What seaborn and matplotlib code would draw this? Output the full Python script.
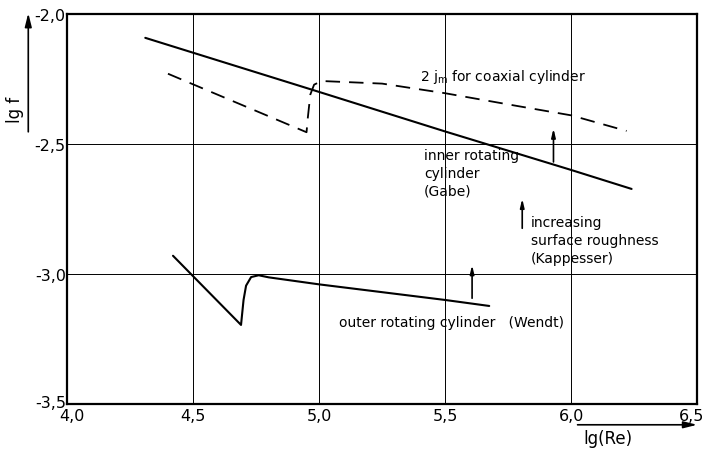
import seaborn as sns
import matplotlib.pyplot as plt
import matplotlib.transforms as mtransforms
import pandas as pd

# curves (lg Re, lg f)
gabe_x = [4.31, 5.0, 5.5, 6.0, 6.24]
gabe_y = [-2.092, -2.30, -2.452, -2.60, -2.673]

coax_x = [4.40, 4.95, 4.955, 4.965, 4.98, 5.01, 5.25, 5.5, 5.786, 6.0, 6.22]
coax_y = [-2.23, -2.455, -2.40, -2.31, -2.272, -2.258, -2.268, -2.305, -2.354, -2.39, -2.45]

wendt_x = [4.42, 4.69, 4.70, 4.71, 4.73, 4.76, 4.80, 5.0, 5.25, 5.5, 5.675]
wendt_y = [-2.93, -3.196, -3.10, -3.045, -3.012, -3.005, -3.013, -3.04, -3.07, -3.10, -3.123]

# roughness arrows: x, y start, y end
arrow_x = [5.93, 5.806, 5.607]
arrow_y0 = [-2.58, -2.835, -3.104]
arrow_y1 = [-2.43, -2.70, -2.955]

x_ticks = [4.0, 4.5, 5.0, 5.5, 6.0, 6.5]
y_ticks = [-3.5, -3.0, -2.5, -2.0]

sns.set_style("white")
plt.rcParams['font.family'] = ['DejaVu Sans']
plt.rcParams['text.color'] = 'black'
plt.rcParams['xtick.color'] = 'black'
plt.rcParams['ytick.color'] = 'black'

fig = plt.figure(figsize=(7.07, 4.52), dpi=100)
ax = fig.add_axes([0.095, 0.104, 0.891, 0.863])

df_gabe = pd.DataFrame({'x': gabe_x, 'y': gabe_y})
df_coax = pd.DataFrame({'x': coax_x, 'y': coax_y})
df_wendt = pd.DataFrame({'x': wendt_x, 'y': wendt_y})

sns.lineplot(data=df_gabe, x='x', y='y', sort=False, color='black', lw=1.5, ax=ax)
sns.lineplot(data=df_coax, x='x', y='y', sort=False, color='black', lw=1.3,
             linestyle=(0, (8, 5)), ax=ax)
sns.lineplot(data=df_wendt, x='x', y='y', sort=False, color='black', lw=1.5, ax=ax)

for xa, y0, y1 in zip(arrow_x, arrow_y0, arrow_y1):
    ax.annotate('', xy=(xa, y1), xytext=(xa, y0),
                arrowprops=dict(arrowstyle='-|>,head_length=0.5,head_width=0.12',
                                color='black', lw=1.2))

ax.set_xlim(4.0, 6.5)
ax.set_ylim(-3.5, -2.0)
ax.set_xticks(x_ticks)
ax.set_yticks(y_ticks)
ax.set_xticklabels([f"{t:.1f}".replace('.', ',') for t in x_ticks], fontsize=11.5)
ax.set_yticklabels([f"{t:.1f}".replace('.', ',') for t in y_ticks], fontsize=11.5)
ax.tick_params(axis='y', length=0, pad=1)
ax.tick_params(axis='x', length=0, pad=3)
# nudge the corner labels like in the original
xl = ax.get_xticklabels()
xl[0].set_transform(xl[0].get_transform() + mtransforms.ScaledTranslation(5 / 100, 0, fig.dpi_scale_trans))
xl[-1].set_transform(xl[-1].get_transform() + mtransforms.ScaledTranslation(-6 / 100, 0, fig.dpi_scale_trans))
yl = ax.get_yticklabels()
yl[0].set_transform(yl[0].get_transform() + mtransforms.ScaledTranslation(0, 3 / 100, fig.dpi_scale_trans))
ax.grid(True, color='black', lw=0.7)
for s in ax.spines.values():
    s.set_color('black')
    s.set_linewidth(1.6)
ax.set_xlabel('')
ax.set_ylabel('')

fs = 10
ax.text(5.40, -2.24, r'2 j$_\mathrm{m}$ for coaxial cylinder', fontsize=fs, va='center')
ax.text(5.417, -2.515, 'inner rotating\ncylinder\n(Gabe)', fontsize=fs, va='top',
        linespacing=1.35)
ax.text(5.84, -2.775, 'increasing\nsurface roughness\n(Kappesser)', fontsize=fs, va='top',
        linespacing=1.35)
ax.text(5.08, -3.185, 'outer rotating cylinder   (Wendt)', fontsize=fs, va='center')

# axis names with arrows
fig.text(0.021, 0.757, 'lg f', rotation=90, fontsize=12, ha='center', va='center')
fig.text(0.86, 0.028, 'lg(Re)', fontsize=12, ha='center', va='center')
ax.annotate('', xy=(0.04, 0.975), xytext=(0.04, 0.70), xycoords='figure fraction',
            arrowprops=dict(arrowstyle='-|>,head_length=0.8,head_width=0.2',
                            color='black', lw=1.2))
ax.annotate('', xy=(0.99, 0.058), xytext=(0.813, 0.058), xycoords='figure fraction',
            arrowprops=dict(arrowstyle='-|>,head_length=0.8,head_width=0.2',
                            color='black', lw=1.2))

plt.savefig('out.png', dpi=100)
